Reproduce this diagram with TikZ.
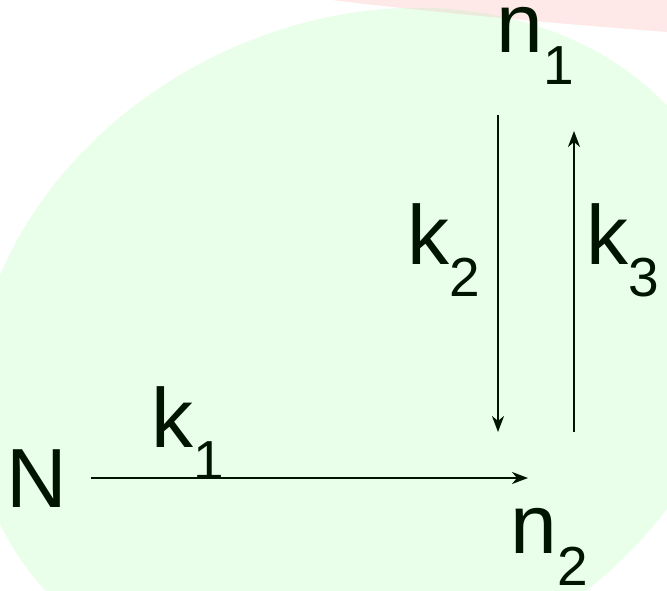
\documentclass[tikz,border=0pt]{standalone}
\usepackage{fontspec}
\setmainfont{Liberation Sans}
\usetikzlibrary{arrows.meta}
\definecolor{bggreen}{RGB}{234,255,234}
\definecolor{bgpink}{RGB}{255,232,232}
\definecolor{bgtan}{RGB}{236,234,219}
\definecolor{ink}{RGB}{0,20,0}
\newcommand{\bigtxt}{\fontsize{84}{84}\selectfont}
\newcommand{\subtxt}[1]{\raisebox{-32pt}{\fontsize{55}{55}\selectfont #1}}
\begin{document}
\begin{tikzpicture}[x=1pt,y=1pt,
  lbl/.style={anchor=base west,inner sep=0pt,outer sep=0pt,text=ink,font=\bigtxt},
  conn/.style={draw=ink,line width=2.2pt,-{Stealth[length=16pt,width=12pt,inset=5pt]}}]
\useasboundingbox (0,0) rectangle (667,590);
% background shapes
\fill[bgpink] (332,590) .. controls (420,579) and (560,566) .. (667,558) -- (667,590) -- cycle;
\fill[bggreen] (358,240) ellipse[x radius=398,y radius=327,rotate=26.4];
\begin{scope}
  \clip (332,590) .. controls (420,579) and (560,566) .. (667,558) -- (667,590) -- cycle;
  \fill[bgtan] (358,240) ellipse[x radius=398,y radius=327,rotate=26.4];
\end{scope}
% labels
\node[lbl] (n1) at (496.5,537) {n\subtxt{1}};
\node[lbl] (N) at (6.6,83) {N};
\node[lbl] (n2) at (510.5,37) {n\subtxt{2}};
\node[lbl] (k1) at (151.4,143) {k\subtxt{1}};
\node[lbl] (k2) at (407.4,325) {k\subtxt{2}};
\node[lbl] (k3) at (586.4,325) {k\subtxt{3}};
% connector ends
\coordinate (hs) at (91,112);
\coordinate (he) at (528,112);
\coordinate (ds) at (498,475);
\coordinate (de) at (498,158);
\coordinate (us) at (574,158);
\coordinate (ue) at (574,459);
\draw[conn] (hs) -- (he);
\draw[conn] (ds) -- (de);
\draw[conn] (us) -- (ue);
\end{tikzpicture}
\end{document}
